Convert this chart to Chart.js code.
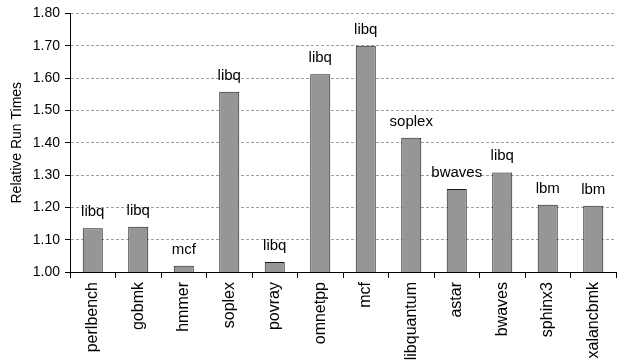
<!DOCTYPE html>
<html>
<head>
<meta charset="utf-8">
<script src="https://cdn.jsdelivr.net/npm/chart.js@4/dist/chart.umd.min.js"></script>
<style>
  html, body { margin: 0; padding: 0; background: #fff; }
  #wrap { width: 621px; height: 364px; position: relative; }
</style>
</head>
<body>
<div id="wrap"><canvas id="c" width="621" height="364"></canvas></div>
<script>
// Benchmarks on the x axis
const benchmarks = ['perlbench', 'gobmk', 'hmmer', 'soplex', 'povray', 'omnetpp',
                    'mcf', 'libquantum', 'astar', 'bwaves', 'sphinx3', 'xalancbmk'];
// Relative run time of each benchmark
const runTimes = [1.135, 1.14, 1.019, 1.558, 1.031, 1.612, 1.70, 1.415, 1.257, 1.308, 1.208, 1.205];
// Co-runner named above each bar
const coRunners = ['libq', 'libq', 'mcf', 'libq', 'libq', 'libq', 'libq', 'soplex', 'bwaves', 'libq', 'lbm', 'lbm'];
// Y axis range
const yMin = 1.0, yMax = 1.8, yStep = 0.1;

const FONT = '"Liberation Sans", Arial, Helvetica, sans-serif';

const barNames = {
  id: 'barNames',
  afterDatasetsDraw(chart) {
    const ctx = chart.ctx;
    const meta = chart.getDatasetMeta(0);
    ctx.save();
    ctx.font = '15px ' + FONT;
    ctx.fillStyle = '#000';
    ctx.textAlign = 'center';
    ctx.textBaseline = 'alphabetic';
    meta.data.forEach((bar, i) => {
      ctx.fillText(coRunners[i], bar.x, bar.y - 12);
    });
    ctx.restore();
  }
};

new Chart(document.getElementById('c'), {
  type: 'bar',
  data: {
    labels: benchmarks,
    datasets: [{
      data: runTimes,
      backgroundColor: '#969696',
      borderColor: '#1a1a1a',
      borderWidth: 1,
      borderSkipped: 'bottom',
      categoryPercentage: 1.0,
      barPercentage: 0.44
    }]
  },
  options: {
    responsive: false,
    animation: false,
    devicePixelRatio: 1,
    layout: { padding: { top: 9, right: 5, left: 0, bottom: 0 } },
    plugins: { legend: { display: false }, tooltip: { enabled: false } },
    scales: {
      x: {
        offset: true,
        grid: {
          offset: true,
          drawOnChartArea: false,
          drawTicks: true,
          tickLength: 6,
          tickColor: '#000'
        },
        border: { display: true, color: '#000', width: 1 },
        ticks: {
          minRotation: 90,
          maxRotation: 90,
          autoSkip: false,
          padding: 4,
          color: '#000',
          font: { family: FONT, size: 16 }
        },
        afterFit(scale) { scale.height = 92; }
      },
      y: {
        min: yMin,
        max: yMax,
        grid: {
          color: '#a0a0a0',
          lineWidth: 1,
          tickLength: 5,
          tickColor: '#000'
        },
        border: { display: true, color: '#000', width: 1, dash: [3, 2] },
        ticks: {
          stepSize: yStep,
          padding: 5,
          color: '#000',
          font: { family: FONT, size: 14 },
          callback: v => Number(v).toFixed(2)
        },
        title: {
          display: true,
          text: 'Relative Run Times',
          color: '#000',
          font: { family: FONT, size: 14 },
          padding: { top: 9, bottom: 0 }
        },
        afterFit(scale) { scale.width = 70; }
      }
    }
  },
  plugins: [barNames]
});
</script>
</body>
</html>
